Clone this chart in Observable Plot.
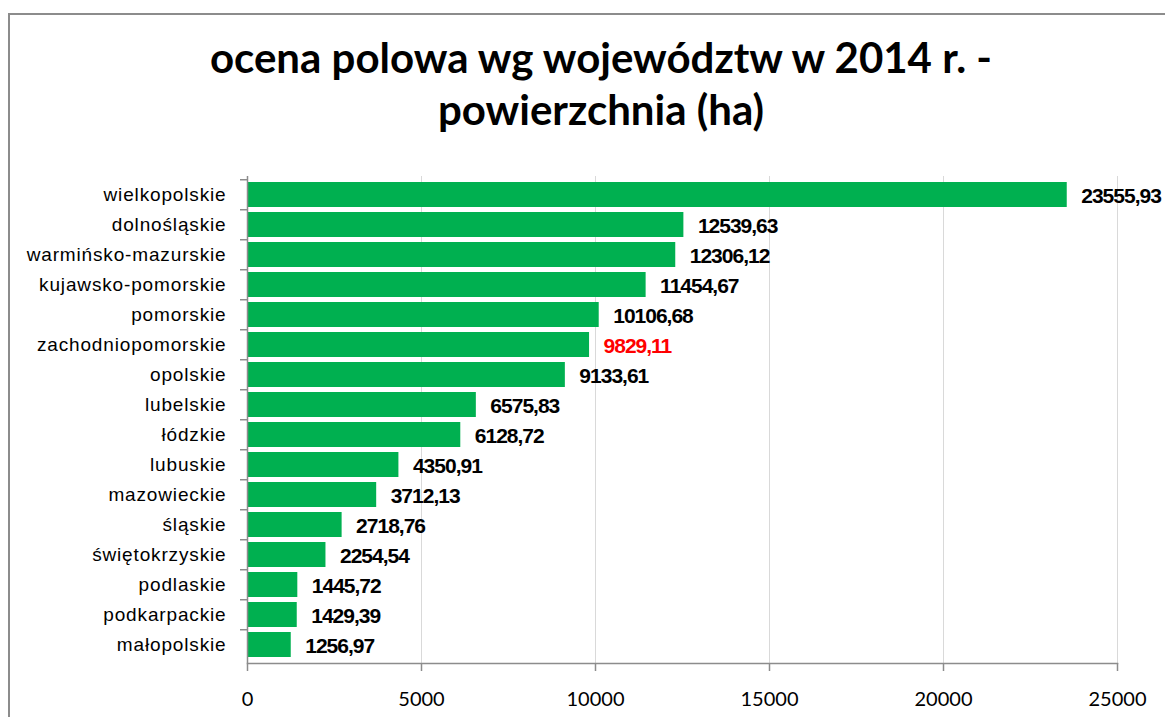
<!DOCTYPE html>
<html>
<head>
<meta charset="utf-8">
<script src="https://cdn.jsdelivr.net/npm/d3@7"></script>
<script src="https://cdn.jsdelivr.net/npm/@observablehq/plot@0.6"></script>
<style>
  html, body { margin: 0; padding: 0; background: #fff; overflow: hidden; }
  #frame { position: absolute; left: 8px; top: 13px; width: 1200px; height: 760px; border: 2px solid #8c8c8c; box-sizing: border-box; }
  #title { position: absolute; left: 8px; top: 31px; width: 1186px; text-align: center; font-family: Lato, sans-serif; font-weight: 700; font-size: 42px; line-height: 52px; color: #000; }
  #chart { position: absolute; left: 0; top: 165px; }
</style>
</head>
<body>
<div id="frame"></div>
<div id="title">ocena polowa wg województw w 2014 r. -<br>powierzchnia (ha)</div>
<div id="chart"></div>
<script>
const regions = ["wielkopolskie","dolnośląskie","warmińsko-mazurskie","kujawsko-pomorskie","pomorskie","zachodniopomorskie","opolskie","lubelskie","łódzkie","lubuskie","mazowieckie","śląskie","świętokrzyskie","podlaskie","podkarpackie","małopolskie"];
const areas = [23555.93,12539.63,12306.12,11454.67,10106.68,9829.11,9133.61,6575.83,6128.72,4350.91,3712.13,2718.76,2254.54,1445.72,1429.39,1256.97];
const highlighted = ["zachodniopomorskie"];
const xTicks = [0,5000,10000,15000,20000,25000];

const data = regions.map((r, i) => ({region: r, area: areas[i]}));
const fmt = v => v.toFixed(2).replace(".", ",");
const step = (663 - 176) / (regions.length - 0.18 + 2 * 0.066);

const chart = Plot.plot({
  width: 1165,
  height: 552,
  marginTop: 11,
  marginBottom: 54,
  marginLeft: 247,
  marginRight: 48,
  style: {fontFamily: "Liberation Sans, Arial, sans-serif", background: "transparent", overflow: "visible"},
  x: {domain: [0, 25000], ticks: xTicks},
  y: {domain: regions, paddingInner: 0.18, paddingOuter: 0.066},
  marks: [
    Plot.gridX(xTicks, {stroke: "#d9d9d9", strokeOpacity: 1, strokeWidth: 1}),
    Plot.barX(data, {y: "region", x: "area", fill: "#00b050"}),
    Plot.ruleX([0], {stroke: "#8c8c8c", strokeWidth: 1.5}),
    Plot.frame({anchor: "bottom", stroke: "#8c8c8c", strokeWidth: 1.5}),
    Plot.axisY({anchor: "left", tickSize: 7, tickFormat: () => "", label: null, dy: -step / 2, stroke: "#8c8c8c", strokeWidth: 1.5, strokeOpacity: 1}),
    Plot.axisY({anchor: "left", tickSize: 0, tickPadding: 21, fontSize: 19, fill: "#000", label: null, ariaLabel: "region-labels"}),
    Plot.axisX({ticks: xTicks, tickSize: 8, tickPadding: 20, fontSize: 20, fontFamily: "Lato, sans-serif", fill: "#000", stroke: "#8c8c8c", strokeWidth: 1.5, strokeOpacity: 1, label: null, tickFormat: d => String(d)}),
    Plot.text(data, {y: "region", x: "area", text: d => fmt(d.area), textAnchor: "start", dx: 14, dy: 1, fontSize: 21, fontWeight: "bold", fontFamily: "Liberation Sans, Arial, sans-serif",
      fill: d => highlighted.includes(d.region) ? "#ff0000" : "#000"})
  ]
});
// letter spacing for category labels and value labels (Excel-like spacing)
d3.select(chart).selectAll("text").each(function() {
  const t = d3.select(this);
  const txt = t.text();
  if (regions.includes(txt)) t.attr("letter-spacing", "0.85px");
  else if (/^\d+,\d\d$/.test(txt)) t.attr("letter-spacing", "-1px");
});
document.getElementById("chart").appendChild(chart);
</script>
</body>
</html>
